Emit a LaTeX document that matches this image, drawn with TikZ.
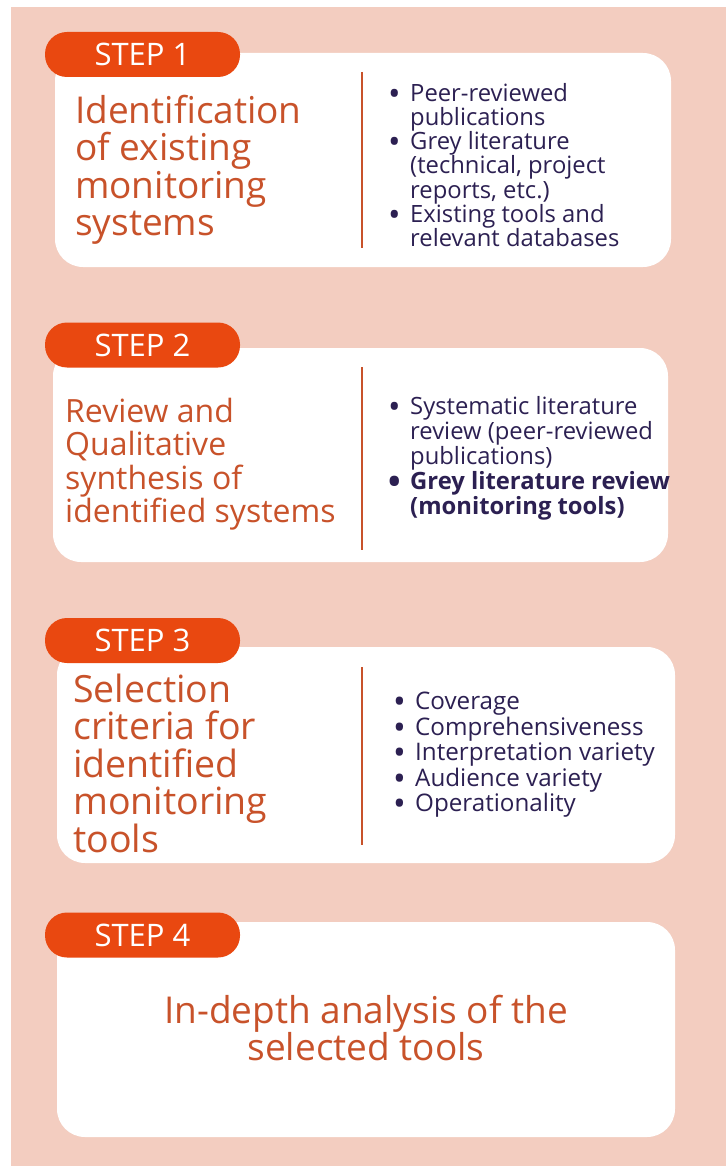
\documentclass[tikz,border=0pt]{standalone}
\usepackage{fontspec}
\setmainfont{Open Sans}
\usetikzlibrary{positioning}

\definecolor{bgpink}{RGB}{243,205,192}
\definecolor{steporange}{RGB}{233,72,16}
\definecolor{titlerust}{RGB}{200,82,42}
\definecolor{itemnavy}{RGB}{44,32,82}

% bullet and hanging indent for the item lists
\newcommand{\bul}{\makebox[22pt][l]{\smash{\raisebox{-0.17em}{\scalebox{1.4}{\textbullet}}}}}
\newcommand{\ind}{\hspace*{22pt}}

\begin{document}
\begin{tikzpicture}[
    x=1pt, y=-1pt,
    stepbox/.style={fill=white, rounded corners=28pt, inner sep=0pt},
    steptag/.style={fill=steporange, rounded corners=22pt, minimum width=195pt, minimum height=45pt, inner sep=0pt, text=white, font=\fontsize{31}{31}\selectfont},
    title/.style={anchor=west, align=left, text=titlerust, inner sep=0pt},
    items/.style={anchor=west, align=left, text=itemnavy, inner sep=0pt, font=\fontsize{23.8}{24.3}\selectfont},
    divider/.style={draw=titlerust, line width=2.5pt}
]
\useasboundingbox (0,0) rectangle (726,1166);

% Background
\fill[white] (0,0) rectangle (726,1166);
\fill[bgpink] (11,7) rectangle (726,1166);

% White cards
\node[stepbox, minimum width=616pt, minimum height=214pt] (box1) at (363,160) {};
\node[stepbox, minimum width=615pt, minimum height=214pt] (box2) at (360.5,455) {};
\node[stepbox, minimum width=618pt, minimum height=216pt] (box3) at (366,755) {};
\node[stepbox, minimum width=618pt, minimum height=215pt] (box4) at (366,1029.5) {};

% Step tags
\node[steptag] (tag1) at (142.5,54.5) {STEP 1};
\node[steptag] (tag2) at (142.5,345) {STEP 2};
\node[steptag] (tag3) at (142.5,640.5) {STEP 3};
\node[steptag] (tag4) at (142.5,935) {STEP 4};

% Step 1
\node[title, font=\fontsize{37}{37.5}\selectfont] (title1) at (75,170) {Identification\\of existing\\monitoring\\systems};
\draw[divider] (362,72) -- (362,248);
\node[items] (items1) at (388,165) {\bul Peer-reviewed\\\ind publications\\\bul Grey literature\\\ind (technical, project\\\ind reports, etc.)\\\bul Existing tools and\\\ind relevant databases};

% Step 2
\node[title, font=\fontsize{32}{33.5}\selectfont] (title2) at (65,464) {Review and\\Qualitative\\synthesis of\\identified systems};
\draw[divider] (362,367) -- (362,550);
\node[items, font=\fontsize{23.8}{25}\selectfont] (items2) at (388,458) {\bul Systematic literature\\\ind review (peer-reviewed\\\ind publications)\\\textbf{\bul Grey literature review}\\\ind\textbf{(monitoring tools)}};

% Step 3
\node[title, font=\fontsize{37.5}{37.5}\selectfont] (title3) at (73,763) {Selection\\criteria for\\identified\\monitoring\\tools};
\draw[divider] (362,667) -- (362,845);
\node[items, font=\fontsize{24.2}{25.5}\selectfont] (items3) at (393,755) {\bul Coverage\\\bul Comprehensiveness\\\bul Interpretation variety\\\bul Audience variety\\\bul Operationality};

% Step 4
\node[text=titlerust, align=center, inner sep=0pt, font=\fontsize{37}{37}\selectfont] (title4) at (366,1028) {In-depth analysis of the\\selected tools};

\end{tikzpicture}
\end{document}
